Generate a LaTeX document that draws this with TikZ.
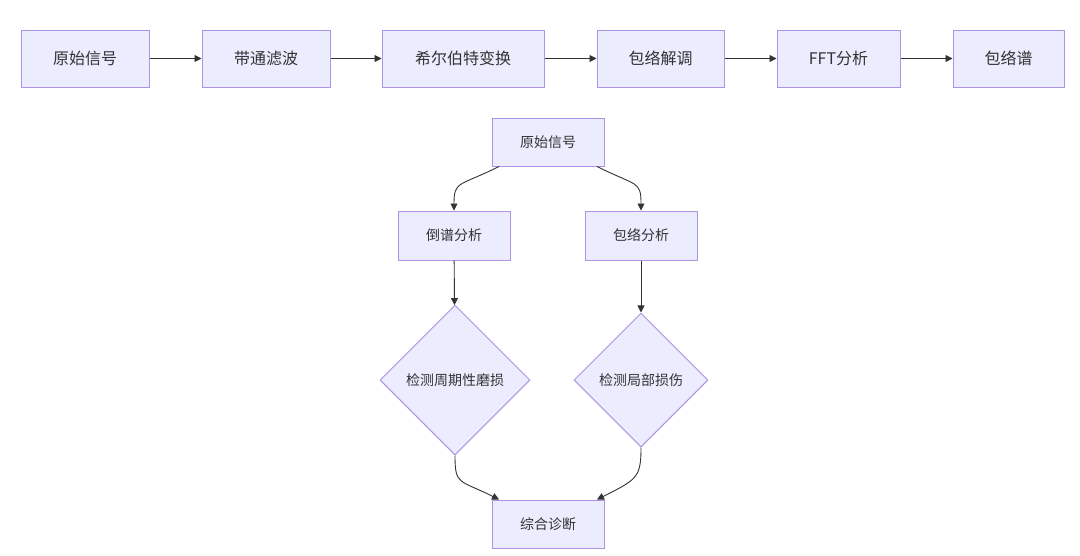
\documentclass[tikz,border=0pt]{standalone}
\usepackage{fontspec}
\newfontfamily\cjk{Noto Sans CJK SC}
\usetikzlibrary{shapes.geometric,arrows.meta}
\definecolor{boxfill}{HTML}{ECECFF}
\definecolor{boxline}{HTML}{AE92E4}
\definecolor{ink}{HTML}{333333}
\tikzset{
	box/.style={draw=boxline,fill=boxfill,line width=1pt,text=ink,font=\cjk,inner sep=0pt},
	bigbox/.style={box,minimum height=57pt,font=\cjk\fontsize{16}{18}\selectfont},
	smallbox/.style={box,minimum width=112pt,minimum height=48pt,font=\cjk\fontsize{14}{16}\selectfont},
	check/.style={box,diamond,aspect=1,font=\cjk\fontsize{14}{16}\selectfont},
	flow/.style={draw=ink,line width=0.9pt,-{Triangle[length=7pt,width=7pt]}}
}

\begin{document}
\begin{tikzpicture}[x=1pt,y=-1pt]
	\useasboundingbox (0,0) rectangle (1080,555);
	% top row
	\node[bigbox,minimum width=128pt] (sig) at (85,58.5) {原始信号};
	\node[bigbox,minimum width=128pt] (bp) at (266,58.5) {带通滤波};
	\node[bigbox,minimum width=162pt] (hil) at (463,58.5) {希尔伯特变换};
	\node[bigbox,minimum width=127pt] (dem) at (660.5,58.5) {包络解调};
	\node[bigbox,minimum width=123pt] (fft) at (838.5,58.5) {FFT分析};
	\node[bigbox,minimum width=111pt] (spec) at (1008.5,58.5) {包络谱};
	\draw[flow] (sig) -- (bp);
	\draw[flow] (bp) -- (hil);
	\draw[flow] (hil) -- (dem);
	\draw[flow] (dem) -- (fft);
	\draw[flow] (fft) -- (spec);
	% lower flow
	\node[smallbox] (raw) at (548,142) {原始信号};
	\node[smallbox,minimum height=49pt] (ceps) at (454,235.5) {倒谱分析};
	\node[smallbox,minimum height=49pt] (env) at (641,235.5) {包络分析};
	\node[check,minimum width=150pt,minimum height=150pt] (wear) at (455,380) {检测周期性磨损};
	\node[check,minimum width=134pt,minimum height=134pt] (local) at (641,380) {检测局部损伤};
	\node[smallbox] (diag) at (548,524) {综合诊断};
	\draw[flow] ([xshift=-49pt]raw.south) .. controls +(-40,20) and +(0,-30) .. (ceps.north);
	\draw[flow] ([xshift=49pt]raw.south) .. controls +(40,20) and +(0,-30) .. (env.north);
	\draw[flow] (ceps) -- (wear);
	\draw[flow] (env) -- (local);
	\draw[flow] (wear.south) .. controls +(0,30) and +(-40,-20) .. ([xshift=-49pt]diag.north);
	\draw[flow] (local.south) .. controls +(0,30) and +(40,-20) .. ([xshift=49pt]diag.north);
\end{tikzpicture}
\end{document}
